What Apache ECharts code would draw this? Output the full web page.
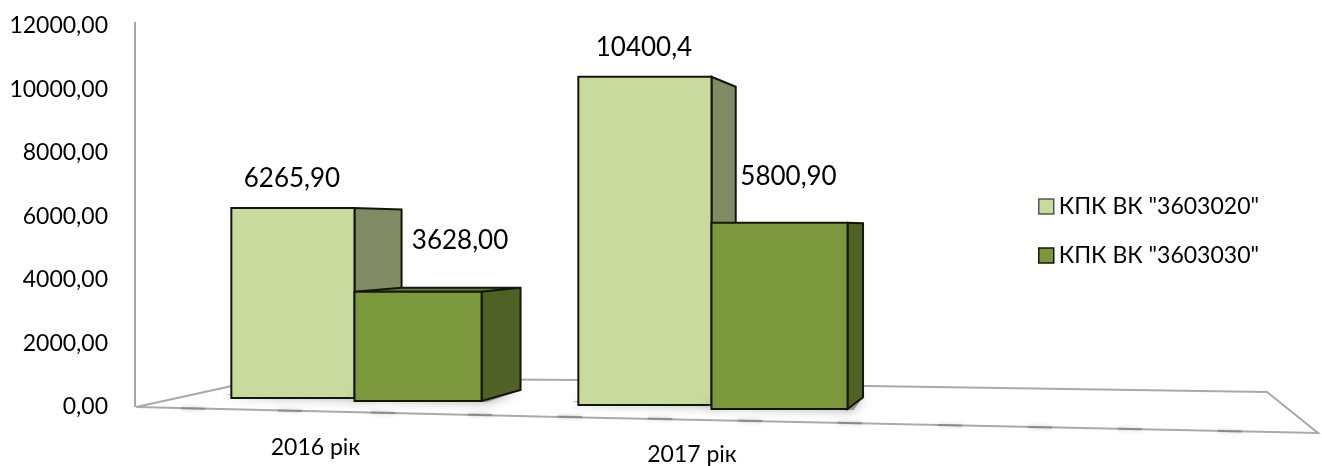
<!DOCTYPE html>
<html><head><meta charset="utf-8">
<style>html,body{margin:0;padding:0;background:#fff}#c{width:1322px;height:466px}</style>
<script src="https://cdn.jsdelivr.net/npm/echarts@6/dist/echarts.min.js"></script>
</head><body><div id="c"></div>
<script>
var categories = ['2016 рік', '2017 рік', ''];
var seriesNames = ['КПК ВК "3603020"', 'КПК ВК "3603030"'];
var values3603020 = [6265.9, 10400.4, null];
var values3603030 = [3628.0, 5800.9, null];
var labels3603020 = ['6265,90', '10400,4', ''];
var labels3603030 = ['3628,00', '5800,90', ''];
var yTicks = ['0,00','2000,00','4000,00','6000,00','8000,00','10000,00','12000,00'];

var FONT = 'Lato, "Open Sans", sans-serif';
var VP = [1090, 230], KX = 0.064, KY = 0.065;
var widthShare = [[0.345, 0.356], [0.373, 0.381]];
var floorDrop = [[-9, -6], [-2, 2]];
var labelShift = [[[-1, -29], [42, -51]], [[-1, -29], [9, -46]]];
var palettes = [
  {front: '#c8da9e', side: '#808b63', top: '#97a674'},
  {front: '#7c983d', side: '#4f6125', top: '#65802f'}
];
function back(p) { return [p[0] + (VP[0] - p[0]) * KX, p[1] + (VP[1] - p[1]) * KY]; }

function makeRender(si, labels) {
  return function (params, api) {
    var i = params.dataIndex, v = api.value(1);
    if (v == null || isNaN(v)) return;
    var cx = api.coord([i, 0])[0];
    var band = api.size([1, 0])[0];
    var w = band * widthShare[i][si];
    var x0 = si === 0 ? cx - w : cx, x1 = si === 0 ? cx : cx + w;
    var yt = api.coord([i, v])[1];
    var yb = api.coord([i, 0])[1] + floorDrop[i][si];
    var p = palettes[si];
    var fl = [x0, yb], fr = [x1, yb], tl = [x0, yt], tr = [x1, yt];
    var bl = back(fl), br = back(fr), ttl = back(tl), ttr = back(tr);
    var edge = {stroke: '#14160c', lineWidth: 2, lineJoin: 'miter'};
    function poly(points, fill, extra) {
      return {type: 'polygon', shape: {points: points}, style: Object.assign({fill: fill}, edge, extra || {})};
    }
    var shift = labelShift[i][si];
    var children = [
      {type: 'polygon', shape: {points: [[x0 - 6, yb - 3], [x1 + 6, yb + 1], br, bl]},
        style: {fill: 'rgba(90,90,90,0.55)', shadowBlur: 12, shadowColor: 'rgba(60,60,60,0.8)'}}
    ];
    if (ttl[1] < tl[1]) children.push(poly([tl, tr, ttr, ttl], p.top));
    children.push(
      poly([tr, fr, br, ttr], p.side),
      poly([tl, tr, fr, fl], p.front),
      {type: 'text', x: (x0 + x1) / 2 + shift[0], y: yt + shift[1],
        style: {text: labels[i], fill: '#000', font: '26px ' + FONT, align: 'center', verticalAlign: 'middle'}}
    );
    return {type: 'group', children: children};
  };
}

var floorColor = '#a9a9a9';
function line(points, w, color, extra) {
  return Object.assign({type: 'polyline', z: 0, silent: true, shape: {points: points},
    style: {stroke: color, lineWidth: w, fill: null}}, extra || {});
}
var floorGraphics = [
  line([[136, 407], [232, 386]], 2, floorColor),
  line([[300, 378], [578, 380], [867, 386], [1267, 392], [1318, 433], [560, 417], [136, 407]], 2, floorColor),
  line([[135, 22], [135, 407]], 2, '#a6a6a6')
];
[193, 290, 383, 480, 570, 660, 750, 850, 950, 1040, 1130, 1230].forEach(function (x) {
  var y = 407 + (x - 136) * (26 / 1182);
  floorGraphics.push({type: 'polyline', z: 0, silent: true, shape: {points: [[x - 12, y], [x + 12, y + 0.5]]},
    style: {stroke: 'rgba(120,120,120,0.55)', lineWidth: 2, fill: null, shadowBlur: 4, shadowColor: 'rgba(90,90,90,0.6)'}});
});

var chart = echarts.init(document.getElementById('c'), null, {renderer: 'canvas'});
chart.setOption({
  animation: false,
  backgroundColor: '#fff',
  grid: {left: 176, right: 75, top: 26, bottom: 59, containLabel: false, outerBoundsMode: 'none'},
  legend: {
    orient: 'vertical', left: 1033, top: 190, itemWidth: 15, itemHeight: 15, itemGap: 26,
    icon: 'rect', selectedMode: false,
    textStyle: {fontFamily: FONT, fontSize: 23, color: '#000'},
    data: [
      {name: seriesNames[0], itemStyle: {color: palettes[0].front, borderColor: '#555', borderWidth: 1.5}},
      {name: seriesNames[1], itemStyle: {color: palettes[1].front, borderColor: '#14160c', borderWidth: 1.5}}
    ]
  },
  xAxis: {
    type: 'category', data: categories,
    axisLine: {show: false}, axisTick: {show: false}, splitLine: {show: false},
    axisLabel: {
      interval: 0, margin: 8,
      formatter: function (v, i) { return v ? '{c' + i + '|' + v + '}' : ''; },
      rich: {
        c0: {fontFamily: FONT, fontSize: 23, color: '#000', padding: [21, 78, 0, 0]},
        c1: {fontFamily: FONT, fontSize: 23, color: '#000', padding: [28, 39, 0, 0]}
      }
    }
  },
  yAxis: {
    type: 'value', min: 0, max: 12000, interval: 2000,
    axisLine: {show: false}, axisTick: {show: false}, splitLine: {show: false},
    axisLabel: {
      margin: 68, color: '#000', fontFamily: FONT, fontSize: 23,
      formatter: function (v) { return yTicks[Math.round(v / 2000)]; }
    }
  },
  graphic: floorGraphics,
  series: [
    {name: seriesNames[0], type: 'custom', z: 3, coordinateSystem: 'cartesian2d', clip: false,
      itemStyle: {color: palettes[0].front}, renderItem: makeRender(0, labels3603020),
      encode: {x: 0, y: 1}, data: values3603020.map(function (v, i) { return [i, v]; })},
    {name: seriesNames[1], type: 'custom', z: 4, coordinateSystem: 'cartesian2d', clip: false,
      itemStyle: {color: palettes[1].front}, renderItem: makeRender(1, labels3603030),
      encode: {x: 0, y: 1}, data: values3603030.map(function (v, i) { return [i, v]; })}
  ]
});
</script></body></html>
